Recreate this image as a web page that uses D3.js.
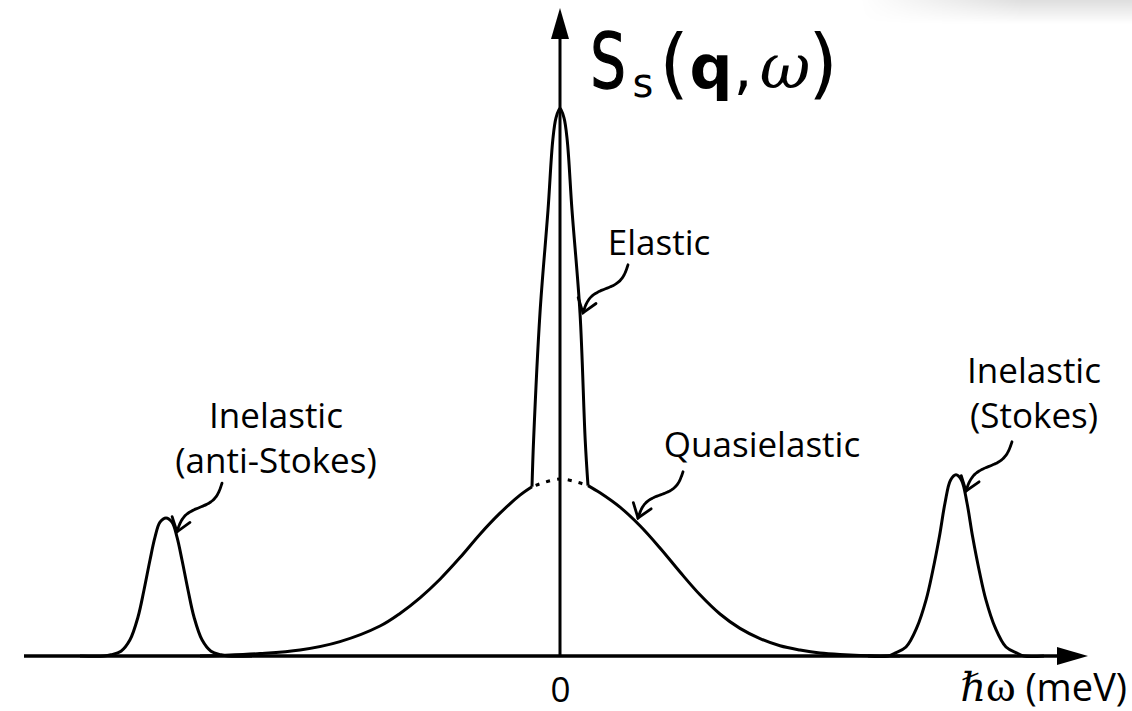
<!DOCTYPE html>
<html>
<head>
<meta charset="utf-8">
<script src="https://cdn.jsdelivr.net/npm/d3@7"></script>
<style>
  html, body { margin: 0; padding: 0; background: #fff; }
  svg { display: block; }
</style>
</head>
<body>
<svg id="chart" width="1132" height="711"></svg>
<script>
// ---- Spectral components: energy transfer (arbitrary meV units) vs. intensity (arb. units) ----
const quasiEnergy = [-9.0, -8.5, -7.5, -6.5, -5.5, -4.5, -4.0, -3.5, -3.0, -2.5, -2.0, -1.5, -1.0, -0.7,
                     0, 0.7, 1.0, 1.5, 2.0, 2.5, 3.0, 3.5, 4.0, 4.5, 5.0, 5.5, 6.0, 6.5, 7.0, 8.0, 8.5];
const quasiIntensity = [0, 0.01, 0.04, 0.10, 0.24, 0.50, 0.71, 0.97, 1.28, 1.64, 2.03, 2.38, 2.68, 2.82,
                        2.95, 2.84, 2.72, 2.48, 2.17, 1.80, 1.40, 1.02, 0.70, 0.46, 0.29, 0.17, 0.10, 0.05, 0.025, 0, 0];

const elasticEnergy    = [-0.7, -0.66, -0.5, -0.3, -0.18, -0.1, 0, 0.1, 0.18, 0.3, 0.5, 0.63, 0.7];
const elasticIntensity = [2.82, 3.6, 5.72, 7.43, 8.6, 8.97, 9.13, 8.97, 8.6, 7.43, 5.72, 3.6, 2.84];

const antiStokesEnergy = [-12.0, -11.4, -11.225, -10.975, -10.75, -10.55, -10.4, -10.25, -10.125, -10.0, -9.85,
                          -9.7, -9.575, -9.45, -9.3, -9.15, -8.95, -8.725, -8.475, -8.3, -7.7];
const antiStokesIntensity = [0, 0, 0.02, 0.08, 0.27, 0.65, 1.1, 1.6, 1.98, 2.23, 2.3,
                             2.23, 1.98, 1.6, 1.1, 0.65, 0.27, 0.08, 0.02, 0, 0];

const stokesEnergy = [7.7, 8.2, 8.375, 8.65, 8.925, 9.15, 9.3125, 9.4875, 9.625, 9.7625, 9.9,
                      10.0375, 10.175, 10.3125, 10.4875, 10.65, 10.875, 11.15, 11.425, 11.6, 12.1];
const stokesIntensity = [0, 0, 0.05, 0.15, 0.48, 0.93, 1.40, 2.0, 2.55, 2.93, 3.02,
                         2.93, 2.55, 2.0, 1.40, 0.93, 0.48, 0.15, 0.05, 0, 0];

// Quasielastic region hidden under the elastic line (drawn dotted)
const hiddenRange = [-0.7, 0.7];

// Axis extents and tick labels
const energyExtent = [-13.4, 13.2];
const intensityMax = 10.8;
const energyTicks = [0];
const energyTickLabels = ["0"];

// Peak labels: text lines, label anchor (energy, intensity), arrow start and arrow tip
const labelLines  = [["Elastic"], ["Quasielastic"], ["Inelastic", "(anti-Stokes)"], ["Inelastic", "(Stokes)"]];
const labelAnchor = [[2.475, 6.68], [5.05, 3.32], [-7.1, 3.8], [11.85, 4.55]];
const arrowStart  = [[1.7, 6.52], [3.075, 3.07], [-8.45, 2.88], [11.3, 3.57]];
const arrowTip    = [[0.575, 5.72], [1.95, 2.3], [-9.575, 2.07], [10.15, 2.75]];

// ---- Scales ----
const x = d3.scaleLinear().domain([-10, 10]).range([160, 960]);
const y = d3.scaleLinear().domain([0, 10]).range([656, 56]);

const svg = d3.select("#chart");
const zip = (a, b) => a.map((v, i) => [v, b[i]]);

// faint page shadow in the upper-right corner
const defs = svg.append("defs");
const shade = defs.append("linearGradient").attr("id", "shade")
  .attr("x1", 0).attr("y1", 0).attr("x2", 0).attr("y2", 1);
shade.append("stop").attr("offset", 0).attr("stop-color", "#000").attr("stop-opacity", 0.13);
shade.append("stop").attr("offset", 1).attr("stop-color", "#000").attr("stop-opacity", 0);
const fadeX = defs.append("linearGradient").attr("id", "fadeX")
  .attr("x1", 0).attr("y1", 0).attr("x2", 1).attr("y2", 0);
fadeX.append("stop").attr("offset", 0).attr("stop-color", "#fff").attr("stop-opacity", 0);
fadeX.append("stop").attr("offset", 0.6).attr("stop-color", "#fff").attr("stop-opacity", 1);
defs.append("mask").attr("id", "shadeMask")
  .append("rect").attr("x", 860).attr("y", 0).attr("width", 272).attr("height", 24).attr("fill", "url(#fadeX)");
svg.append("rect").attr("x", 860).attr("y", 0).attr("width", 272).attr("height", 24)
  .attr("fill", "url(#shade)").attr("mask", "url(#shadeMask)");

const line = d3.line()
  .x(d => x(d[0]))
  .y(d => y(d[1]))
  .curve(d3.curveCatmullRom.alpha(0.5));

const curves = svg.append("g")
  .attr("fill", "none")
  .attr("stroke", "#000")
  .attr("stroke-width", 3)
  .attr("stroke-linejoin", "round");

// Quasielastic: solid outside the elastic line, dotted underneath it
const quasi = zip(quasiEnergy, quasiIntensity);
curves.append("path").attr("d", line(quasi.filter(d => d[0] <= hiddenRange[0])));
curves.append("path").attr("d", line(quasi.filter(d => d[0] >= hiddenRange[1])));
curves.append("path")
  .attr("d", line(quasi.filter(d => d[0] >= hiddenRange[0] && d[0] <= hiddenRange[1])))
  .attr("stroke-dasharray", "4 7")
  .attr("stroke-dashoffset", -4);

// Elastic line
curves.append("path").attr("d", line(zip(elasticEnergy, elasticIntensity)));

// Inelastic lines
curves.append("path").attr("d", line(zip(antiStokesEnergy, antiStokesIntensity)));
curves.append("path").attr("d", line(zip(stokesEnergy, stokesIntensity)));

// ---- Axes with arrow heads ----
const axes = svg.append("g");
const x0 = x(energyExtent[0]), x1 = x(energyExtent[1]);
const yBase = y(0), yTop = y(intensityMax), xZero = x(0);
const headLen = 31, headHalf = 9;

axes.append("line")
  .attr("x1", x0).attr("x2", x1 - headLen + 2)
  .attr("y1", yBase).attr("y2", yBase)
  .attr("stroke", "#000").attr("stroke-width", 3.5);
axes.append("path")
  .attr("d", `M${x1},${yBase} L${x1 - headLen},${yBase - headHalf} L${x1 - headLen},${yBase + headHalf} Z`)
  .attr("fill", "#000");

axes.append("line")
  .attr("x1", xZero).attr("x2", xZero)
  .attr("y1", yBase).attr("y2", yTop + headLen - 2)
  .attr("stroke", "#000").attr("stroke-width", 3);
axes.append("path")
  .attr("d", `M${xZero},${yTop} L${xZero - headHalf},${yTop + headLen} L${xZero + headHalf},${yTop + headLen} Z`)
  .attr("fill", "#000");

// Tick label on the energy axis
const xAxis = d3.axisBottom(x)
  .tickValues(energyTicks)
  .tickFormat((d, i) => energyTickLabels[i])
  .tickSize(0)
  .tickPadding(21);
const xAxisG = svg.append("g").attr("transform", `translate(0,${yBase})`).call(xAxis);
xAxisG.select(".domain").remove();
xAxisG.selectAll("text")
  .attr("font-family", "'Open Sans', sans-serif")
  .attr("font-size", 35)
  .attr("fill", "#000");

// Energy axis title
const xTitle = svg.append("text")
  .attr("x", 1127).attr("y", 701)
  .attr("text-anchor", "end")
  .attr("fill", "#000");
xTitle.append("tspan")
  .attr("font-family", "'DejaVu Serif', serif").attr("font-style", "italic")
  .attr("font-size", 40).text("ℏ");
xTitle.append("tspan")
  .attr("font-family", "'Liberation Serif', serif")
  .attr("font-size", 45).text("ω");
xTitle.append("tspan")
  .attr("font-family", "'Open Sans', sans-serif")
  .attr("font-size", 38).text(" (meV)");

// Intensity axis title  S_s(q, ω)
const yTitle = svg.append("g").attr("fill", "#000");
yTitle.append("text")
  .attr("transform", "translate(608,88) scale(0.74,1)")
  .attr("text-anchor", "middle")
  .attr("font-family", "'DejaVu Sans', sans-serif")
  .attr("stroke", "#000").attr("stroke-width", 1.4)
  .attr("font-size", 76).text("S");
const yT = yTitle.append("text")
  .attr("text-anchor", "middle")
  .attr("font-family", "'DejaVu Sans', sans-serif");
yT.append("tspan").attr("x", 643).attr("y", 97).attr("font-size", 40).text("s");
yT.append("tspan").attr("x", 674).attr("y", 89).attr("font-size", 76).text("(");
yT.append("tspan").attr("x", 711).attr("y", 88).attr("font-size", 60).attr("font-weight", "bold").text("q");
yT.append("tspan").attr("x", 743).attr("y", 88).attr("font-size", 60).text(",");
yT.append("tspan").attr("x", 785).attr("y", 88).attr("font-size", 62)
  .attr("font-family", "'DejaVu Serif', serif").attr("font-style", "italic").text("ω");
yT.append("tspan").attr("x", 823).attr("y", 89).attr("font-size", 76).text(")");

// ---- Peak labels ----
const lineGap = 45;
const labels = svg.append("g")
  .attr("font-family", "'Open Sans', sans-serif")
  .attr("font-size", 35)
  .attr("fill", "#000")
  .attr("text-anchor", "middle");
labelLines.forEach((lines, i) => {
  const t = labels.append("text")
    .attr("x", x(labelAnchor[i][0]))
    .attr("y", y(labelAnchor[i][1]));
  lines.forEach((s, j) => {
    t.append("tspan").attr("x", x(labelAnchor[i][0])).attr("dy", j === 0 ? 0 : lineGap).text(s);
  });
});

// ---- Wavy pointer arrows ----
function wavyArrow(g, p0, p1, amp) {
  const dx = p1[0] - p0[0], dy = p1[1] - p0[1], L = Math.hypot(dx, dy);
  const nx = dy / L, ny = -dx / L;
  const pts = d3.range(0, 1.0001, 1 / 40).map(t => {
    const o = amp * Math.sin(2 * Math.PI * t);
    return [p0[0] + t * dx + o * nx, p0[1] + t * dy + o * ny];
  });
  g.append("path")
    .attr("d", d3.line().curve(d3.curveBasis)(pts))
    .attr("fill", "none").attr("stroke", "#000").attr("stroke-width", 2.8)
    .attr("stroke-linecap", "round");
  // open arrow head aligned with the final tangent
  const a = pts[pts.length - 4], b = pts[pts.length - 1];
  const ang = Math.atan2(a[1] - b[1], a[0] - b[0]);
  const armLen = 16, spread = Math.PI / 5;
  const arm = s => [b[0] + armLen * Math.cos(ang + s), b[1] + armLen * Math.sin(ang + s)];
  const l = arm(spread), r = arm(-spread);
  g.append("path")
    .attr("d", `M${l[0]},${l[1]} L${b[0]},${b[1]} L${r[0]},${r[1]}`)
    .attr("fill", "none").attr("stroke", "#000").attr("stroke-width", 2.8)
    .attr("stroke-linecap", "round").attr("stroke-linejoin", "miter");
}
const arrows = svg.append("g");
arrowStart.forEach((s, i) => {
  wavyArrow(arrows, [x(s[0]), y(s[1])], [x(arrowTip[i][0]), y(arrowTip[i][1])], 5);
});
</script>
</body>
</html>
